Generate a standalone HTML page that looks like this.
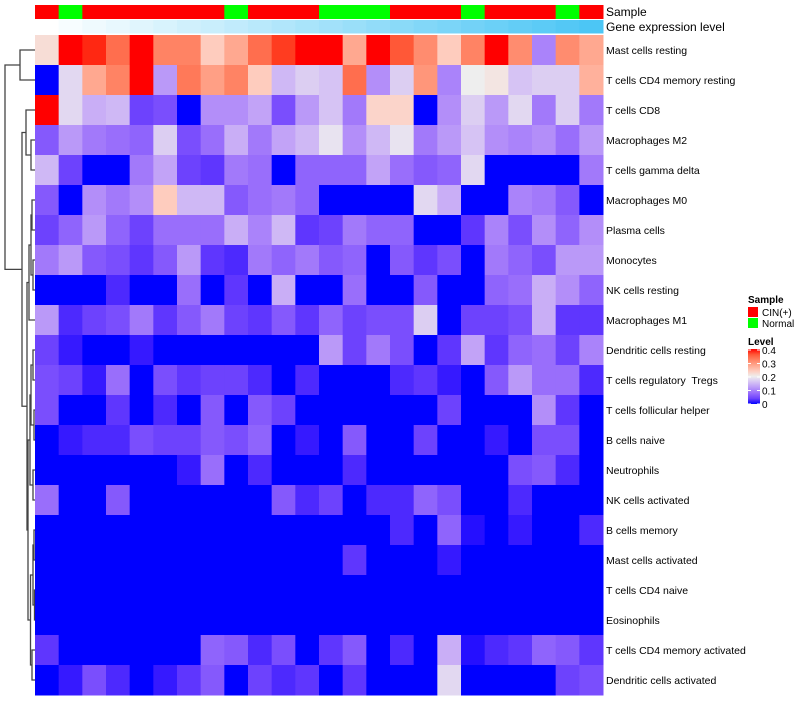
<!DOCTYPE html>
<html><head><meta charset="utf-8"><style>
body{margin:0;background:#fff;width:800px;height:700px;overflow:hidden;font-family:"Liberation Sans",sans-serif}
#labels text{white-space:pre}
</style></head><body>
<svg id="chart" width="800" height="700" xmlns="http://www.w3.org/2000/svg" style="font-family:'Liberation Sans',sans-serif">
<g id="dend" stroke="#444" fill="none" stroke-width="1.3"></g>
<g id="annot"></g>
<g id="cells"></g>
<g id="labels" font-size="10.5" fill="#000"></g>
<text x="606" y="16" font-size="12">Sample</text>
<text x="606" y="31" font-size="12">Gene expression level</text>
<g>
<text x="748" y="303" font-size="10" font-weight="bold">Sample</text>
<rect x="748" y="307" width="10" height="10" fill="#ff0000"/>
<text x="762" y="316" font-size="10">CIN(+)</text>
<rect x="748" y="318" width="10" height="10" fill="#00ff00"/>
<text x="762" y="327" font-size="10">Normal</text>
</g>
<g>
<text x="748" y="345" font-size="10" font-weight="bold">Level</text>
<rect id="gradbar" x="748" y="349" width="12" height="55"/>
<g font-size="10" id="levticks"></g>
</g>
<defs><linearGradient id="lg" x1="0" y1="1" x2="0" y2="0"></linearGradient></defs>
</svg>
<script>
const rowNames=["Mast cells resting","T cells CD4 memory resting","T cells CD8","Macrophages M2","T cells gamma delta","Macrophages M0","Plasma cells","Monocytes","NK cells resting","Macrophages M1","Dendritic cells resting","T cells regulatory  Tregs","T cells follicular helper","B cells naive","Neutrophils","NK cells activated","B cells memory","Mast cells activated","T cells CD4 naive","Eosinophils","T cells CD4 memory activated","Dendritic cells activated"];
const sampleGroups=["C","N","C","C","C","C","C","C","N","C","C","C","N","N","N","C","C","C","N","C","C","C","N","C"];
const levelTicks=[0,0.1,0.2,0.3,0.4];
const r0=[0.22,0.4,0.39,0.34,0.4,0.32,0.32,0.24,0.28,0.34,0.38,0.4,0.4,0.28,0.4,0.36,0.31,0.24,0.32,0.4,0.31,0.1,0.31,0.28];
const r1=[0,0.18,0.28,0.32,0.4,0.12,0.33,0.29,0.32,0.24,0.15,0.17,0.16,0.34,0.11,0.17,0.3,0.1,0.2,0.21,0.16,0.17,0.17,0.27];
const r2=[0.4,0.18,0.14,0.15,0.04,0.05,0,0.11,0.11,0.13,0.05,0.12,0.16,0.09,0.23,0.23,0,0.11,0.17,0.12,0.18,0.09,0.17,0.09];
const r3=[0.06,0.12,0.09,0.08,0.07,0.17,0.05,0.08,0.14,0.09,0.13,0.15,0.19,0.11,0.15,0.19,0.09,0.12,0.16,0.11,0.1,0.11,0.08,0.12];
const r4=[0.15,0.04,0,0,0.09,0.13,0.04,0.03,0.09,0.08,0,0.07,0.07,0.07,0.13,0.08,0.06,0.07,0.18,0,0,0,0,0.09];
const r5=[0.06,0,0.11,0.09,0.11,0.24,0.15,0.15,0.06,0.08,0.09,0.07,0,0,0,0,0.18,0.14,0,0,0.1,0.09,0.06,0];
const r6=[0.04,0.07,0.12,0.07,0.04,0.08,0.08,0.08,0.14,0.1,0.15,0.03,0.04,0.09,0.07,0.07,0,0,0.03,0.1,0.05,0.11,0.07,0.11];
const r7=[0.09,0.12,0.06,0.05,0.03,0.06,0.12,0.03,0.02,0.09,0.07,0.09,0.06,0.07,0,0.06,0.03,0.05,0,0.09,0.07,0.05,0.12,0.12];
const r8=[0,0,0,0.02,0,0,0.08,0,0.03,0,0.14,0,0,0.08,0,0,0.06,0,0,0.07,0.08,0.14,0.11,0.07];
const r9=[0.12,0.02,0.04,0.05,0.09,0.03,0.06,0.09,0.04,0.03,0.06,0.03,0.07,0.04,0.05,0.05,0.17,0,0.04,0.04,0.05,0.14,0.03,0.03];
const r10=[0.04,0.01,0,0,0.01,0,0,0,0,0,0,0,0.12,0.04,0.09,0.05,0,0.03,0.13,0.03,0.07,0.08,0.04,0.1];
const r11=[0.05,0.04,0.01,0.08,0,0.05,0.03,0.04,0.04,0.02,0,0.02,0,0,0,0.02,0.03,0.01,0,0.06,0.12,0.08,0.08,0.02];
const r12=[0.05,0,0,0.03,0,0.02,0,0.06,0,0.06,0.04,0,0,0,0,0,0,0.04,0,0,0,0.11,0.03,0];
const r13=[0,0.01,0.02,0.02,0.05,0.04,0.04,0.06,0.05,0.07,0,0.01,0,0.06,0,0,0.04,0,0,0.01,0,0.05,0.05,0];
const r14=[0,0,0,0,0,0,0.01,0.08,0,0.02,0,0,0,0.02,0,0,0,0,0,0,0.05,0.06,0.02,0];
const r15=[0.08,0,0,0.06,0,0,0,0,0,0,0.06,0.02,0.04,0,0.02,0.02,0.07,0.05,0,0,0.02,0,0,0];
const r16=[0,0,0,0,0,0,0,0,0,0,0,0,0,0,0,0.02,0,0.07,0.005,0,0.01,0,0,0.02];
const r17=[0,0,0,0,0,0,0,0,0,0,0,0,0,0.03,0,0,0,0.01,0,0,0,0,0,0];
const r18=[0,0,0,0,0,0,0,0,0,0,0,0,0,0,0,0,0,0,0,0,0,0,0,0];
const r19=[0,0,0,0,0,0,0,0,0,0,0,0,0,0,0,0,0,0,0,0,0,0,0,0];
const r20=[0.03,0,0,0,0,0,0,0.07,0.06,0.02,0.05,0,0.03,0.06,0,0.02,0,0.14,0.005,0.02,0.03,0.07,0.06,0.03];
const r21=[0,0.01,0.05,0.02,0,0.01,0.03,0.06,0,0.04,0.02,0.03,0,0.03,0,0,0,0.18,0,0,0,0,0.04,0.05];
const values=[r0,r1,r2,r3,r4,r5,r6,r7,r8,r9,r10,r11,r12,r13,r14,r15,r16,r17,r18,r19,r20,r21];

const NS="http://www.w3.org/2000/svg";
const X0=35,X1=603,Y0=35,Y1=695;
const nC=sampleGroups.length,nR=rowNames.length;
const cw=(X1-X0)/nC,rh=(Y1-Y0)/nR;
const xPos=c=>X0+c*cw, yPos=r=>Y0+r*rh;
function mk(t,a,p){const e=document.createElementNS(NS,t);for(const k in a)e.setAttribute(k,a[k]);p.appendChild(e);return e;}
function s2l(c){c/=255;return c<=0.04045?c/12.92:Math.pow((c+0.055)/1.055,2.4);}
function l2s(c){c=c<=0.0031308?12.92*c:1.055*Math.pow(c,1/2.4)-0.055;return Math.max(0,Math.min(255,Math.round(c*255)));}
function toLab(rgb){let[r,g,b]=rgb.map(s2l);let x=(r*0.4124+g*0.3576+b*0.1805)/0.95047,y=r*0.2126+g*0.7152+b*0.0722,z=(r*0.0193+g*0.1192+b*0.9505)/1.08883;const f=t=>t>0.008856?Math.cbrt(t):7.787*t+16/116;const fx=f(x),fy=f(y),fz=f(z);return[116*fy-16,500*(fx-fy),200*(fy-fz)];}
function fromLab(l){let fy=(l[0]+16)/116,fx=fy+l[1]/500,fz=fy-l[2]/200;const fi=t=>t*t*t>0.008856?t*t*t:(t-16/116)/7.787;let x=fi(fx)*0.95047,y=fi(fy),z=fi(fz)*1.08883;let r=x*3.2406-y*1.5372-z*0.4986,g=-x*0.9689+y*1.8758+z*0.0415,b=x*0.0557-y*0.2040+z*1.0570;return`rgb(${l2s(r)},${l2s(g)},${l2s(b)})`;}
const LB=toLab([0,0,255]),LW=toLab([238,238,238]),LR=toLab([255,0,0]);
function col(v){v=Math.max(0,Math.min(0.4,v));let a,b,t;if(v<0.2){a=LB;b=LW;t=v/0.2;}else{a=LW;b=LR;t=(v-0.2)/0.2;}return fromLab(a.map((x,i)=>x+(b[i]-x)*t));}

const cells=document.getElementById('cells');
for(let r=0;r<nR;r++)for(let c=0;c<nC;c++){
 const e=mk('rect',{x:xPos(c),y:yPos(r),width:cw+0.5,height:rh+0.5,fill:col(values[r][c])},cells);
 
 
}
const labels=document.getElementById('labels');
rowNames.forEach((n,r)=>{const t=mk('text',{x:606,y:yPos(r)+rh/2+4},labels);t.textContent=n;
 t.setAttribute('xml:space','preserve');
 
 });
const annot=document.getElementById('annot');
sampleGroups.forEach((g,c)=>{
 const e=mk('rect',{x:xPos(c),y:5,width:cw+0.5,height:14,fill:g==="C"?"#ff0000":"#00ff00"},annot);
 
 
 const t=c/(nC-1);
 const rr=Math.round(255+(76-255)*t),gg=Math.round(255+(198-255)*t),bb=Math.round(255+(245-255)*t);
 const e2=mk('rect',{x:xPos(c),y:20,width:cw+0.5,height:13.5,fill:`rgb(${rr},${gg},${bb})`},annot);
 
 
});
const lg=document.getElementById('lg');
for(let i=0;i<=10;i++){mk('stop',{offset:i/10,'stop-color':col(0.04*i)},lg);}
document.getElementById('gradbar').setAttribute('fill','url(#lg)');
const lt=document.getElementById('levticks');
levelTicks.forEach(v=>{const y=404-(v/0.4)*54;const t=mk('text',{x:762,y:y+4},lt);t.textContent=String(v);
 
 
 mk('line',{x1:748,x2:751,y1:y,y2:y,stroke:'#fff'},lt);mk('line',{x1:757,x2:760,y1:y,y2:y,stroke:'#fff'},lt);});
const dend=document.getElementById('dend');
function leaf(i){return{y:yPos(i)+rh/2,x:X0};}
function join(a,b,x){const A=typeof a==="number"?leaf(a):a,B=typeof b==="number"?leaf(b):b;
 mk('path',{d:`M${A.x},${A.y}H${x}V${B.y}H${B.x}`},dend);return{x:x,y:(A.y+B.y)/2};}
const A=join(0,1,20);
const B=join(3,4,31);const C=join(2,B,26);
const m56=join(5,6,32);const m78=join(7,8,33);const m5_8=join(m56,m78,31);
const m9=join(m5_8,9,29);
const m10_11=join(10,11,33);const m12_13=join(12,13,34);const m10_13=join(m10_11,m12_13,31);
const m14_15=join(14,15,33);const m10_15=join(m10_13,m14_15,30);
const m16_17=join(16,17,34);const m18_19=join(18,19,34.5);const m16_19=join(m16_17,m18_19,33);
const m20_21=join(20,21,32);const m16_21=join(m16_19,m20_21,30.5);
const m10_21=join(m10_15,m16_21,28);
const m5_21=join(m9,m10_21,27);
const G=join(C,m5_21,22);
join(A,G,5);
</script>
</body></html>
